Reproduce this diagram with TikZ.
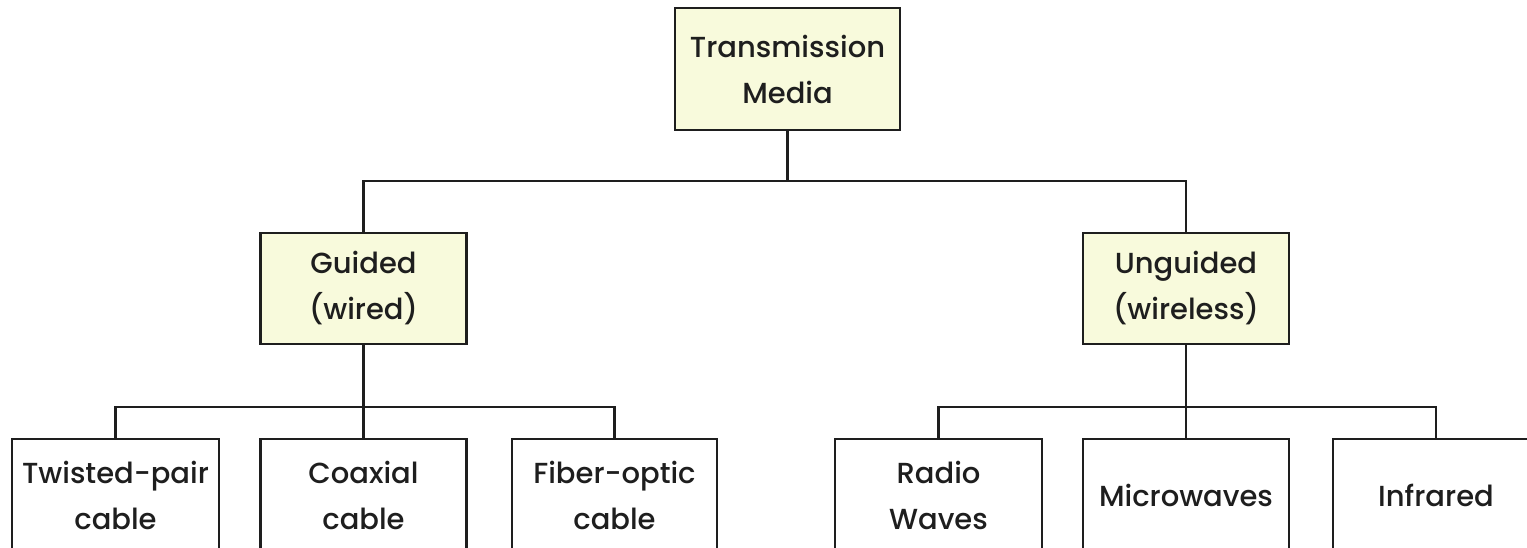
\documentclass[tikz,border=0pt]{standalone}
\usepackage{fontspec}
\setmainfont{Poppins}[UprightFont={* Medium}]
\definecolor{boxfill}{RGB}{248,250,220}
\definecolor{ink}{RGB}{30,30,30}
\tikzset{
  box/.style={draw=ink, line width=2.6pt, rectangle, inner sep=0pt, align=center,
    text=ink, font=\fontsize{29}{46}\selectfont},
  hbox/.style={box, fill=boxfill, minimum width=206pt, minimum height=111pt},
  leaf/.style={box, fill=white, minimum width=206pt, minimum height=112pt},
  wire/.style={draw=ink, line width=2.6pt},
}
\begin{document}
\begin{tikzpicture}[x=1pt,y=-1pt]
\useasboundingbox (0,0) rectangle (1527,547);
\fill[white] (0,0) rectangle (1527,547);
\clip (0,0) rectangle (1527,547);
\node[hbox, minimum width=225pt, minimum height=122pt] (tm) at (787.5,69) {Transmission\\Media};
\node[hbox] (guided) at (363.5,288.5) {Guided\\(wired)};
\node[hbox] (unguided) at (1186,288.5) {Unguided\\(wireless)};
\node[leaf, minimum width=207pt] (tp) at (115.5,495) {Twisted-pair\\cable};
\node[leaf] (coax) at (363.5,495) {Coaxial\\cable};
\node[leaf, minimum width=205pt] (fiber) at (614.5,495) {Fiber-optic\\cable};
\node[leaf, minimum width=207pt] (radio) at (938.5,495) {Radio\\Waves};
\node[leaf] (micro) at (1186,495) {Microwaves};
\node[leaf] (infra) at (1436,495) {Infrared};
\coordinate (b1) at (0,181);
\coordinate (b2) at (0,407);
\draw[wire] (tm.south) -- (tm.south |- b1);
\draw[wire] (guided.north) -- (guided.north |- b1) -- (unguided.north |- b1) -- (unguided.north);
\draw[wire] (guided.south) -- (coax.north);
\draw[wire] (tp.north) -- (tp.north |- b2) -- (fiber.north |- b2) -- (fiber.north);
\draw[wire] (unguided.south) -- (micro.north);
\draw[wire] (radio.north) -- (radio.north |- b2) -- (infra.north |- b2) -- (infra.north);
\end{tikzpicture}
\end{document}
